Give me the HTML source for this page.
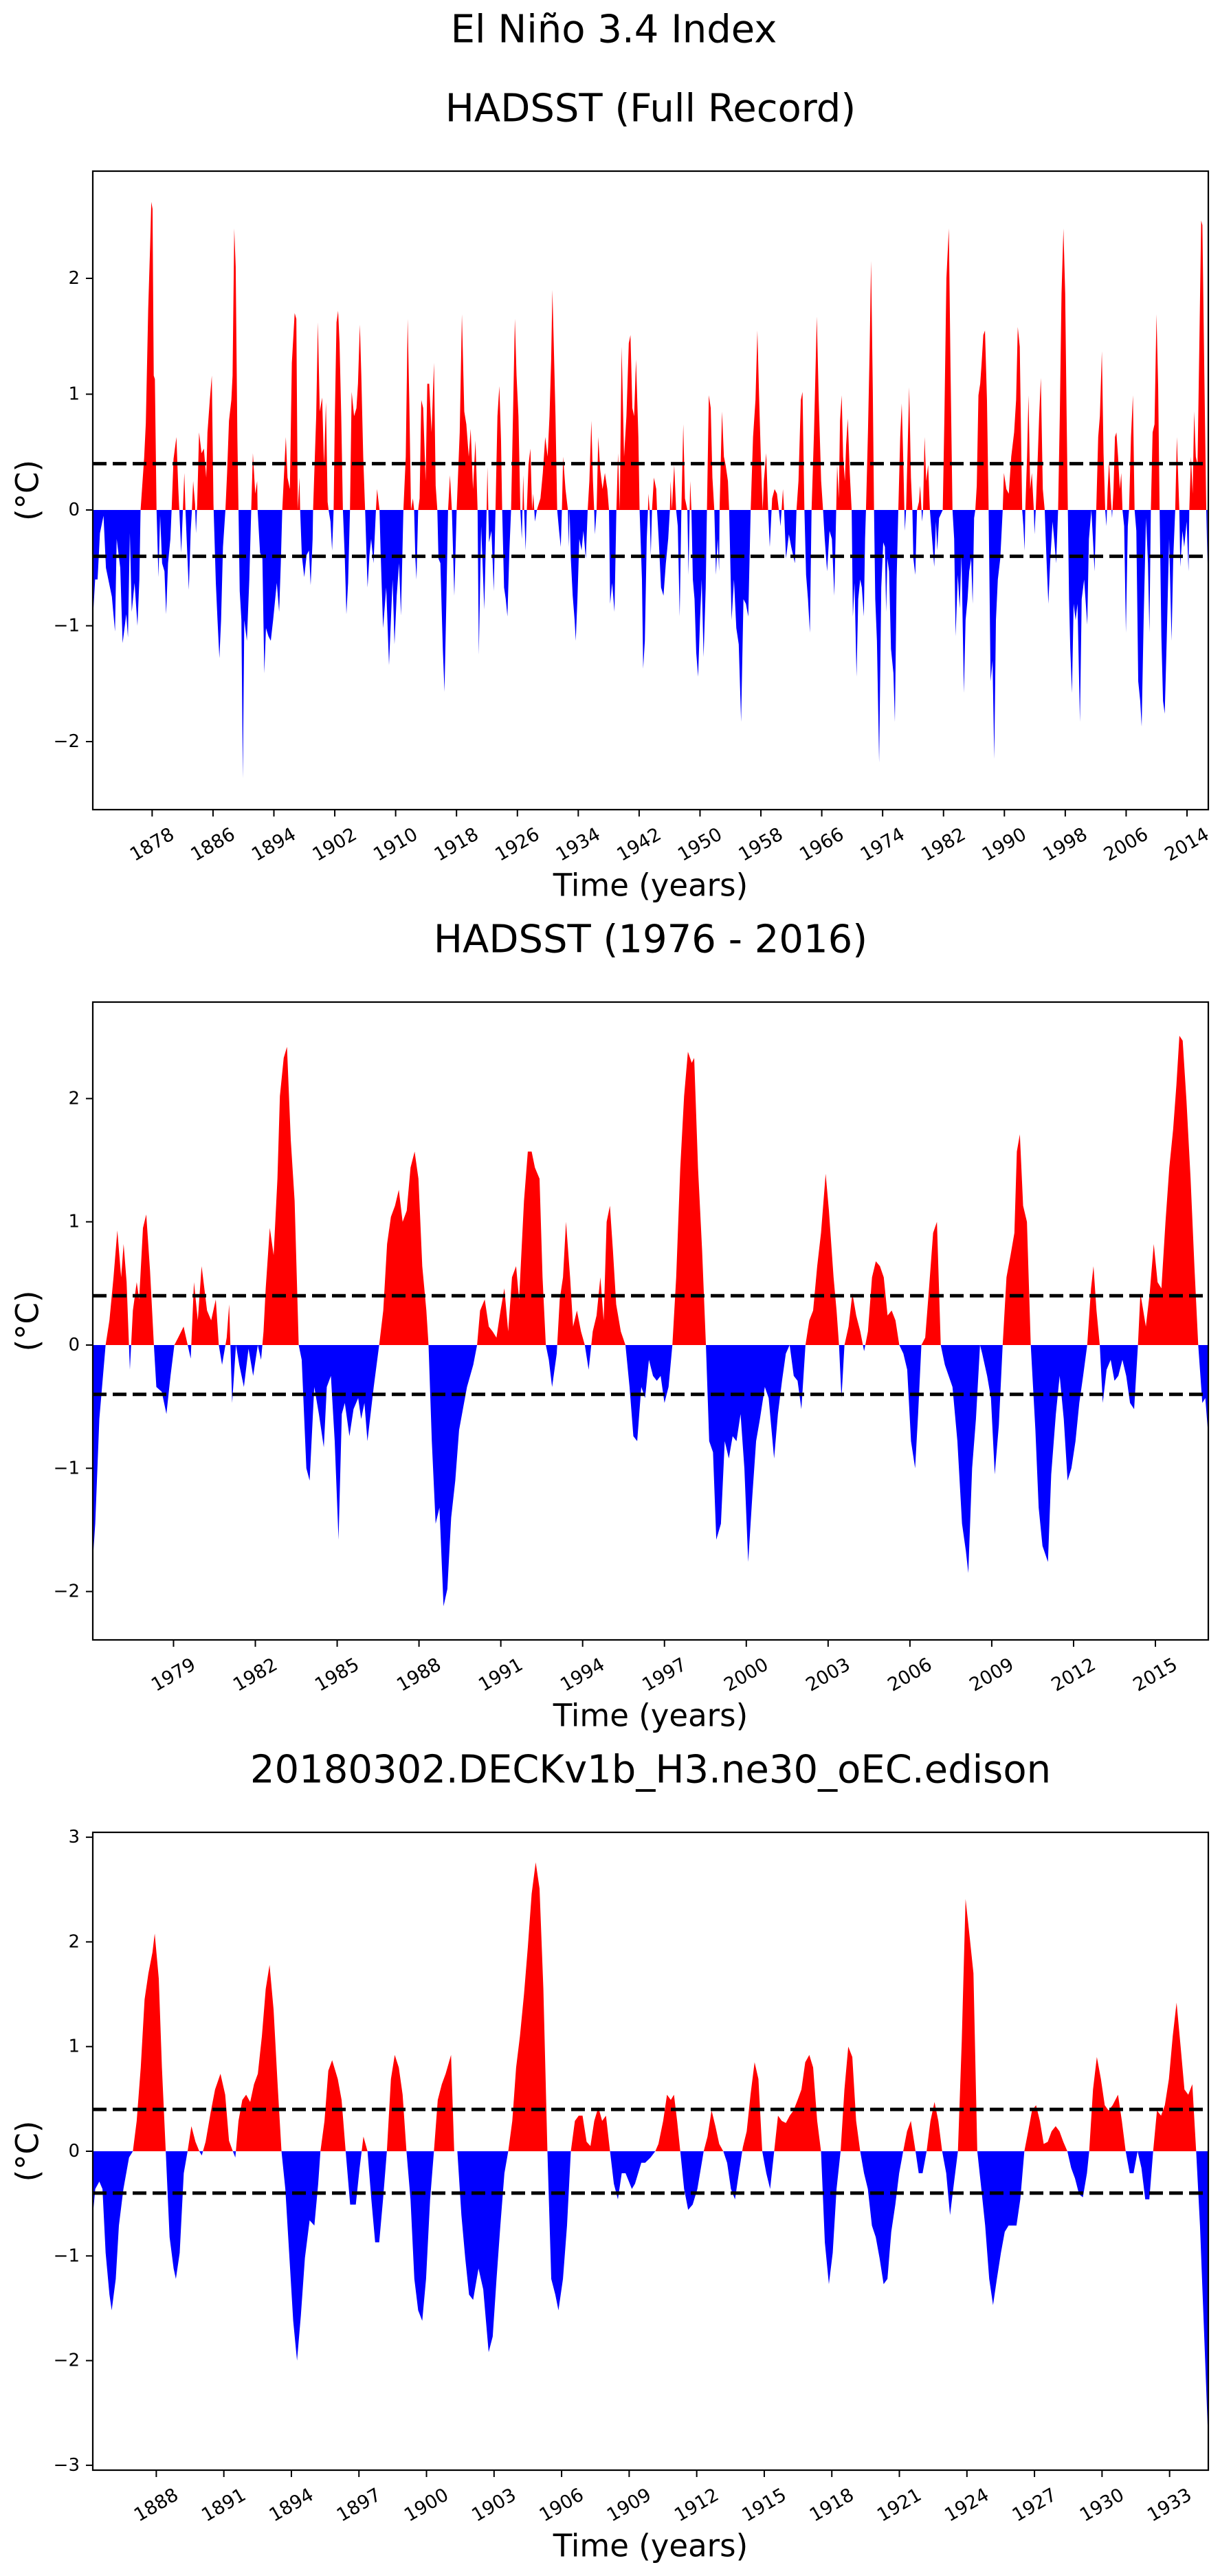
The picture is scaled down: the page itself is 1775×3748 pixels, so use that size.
<!DOCTYPE html>
<html><head><meta charset="utf-8"><title>El Niño 3.4 Index</title>
<style>
html,body{margin:0;padding:0;background:#fff;}
svg{display:block;font-family:"DejaVu Sans","Liberation Sans",sans-serif;}
</style></head>
<body>
<svg id="fig" width="1775" height="3748" viewBox="0 0 1775 3748" xmlns="http://www.w3.org/2000/svg">
<rect x="0" y="0" width="1775" height="3748" fill="#fff"/>
<text x="893" y="43" font-size="56" text-anchor="middle" dominant-baseline="central">El Niño 3.4 Index</text>
</svg>
<script>
// ---------- Panel 1 data: HADSST full record ----------
const p1Years = [1870.20,1870.51,1870.83,1871.14,1871.61,1871.93,1872.71,1873.12,1873.34,1873.81,1874.12,1874.60,1874.82,1875.07,1875.32,1875.69,1876.07,1876.32,1876.48,1876.95,1877.17,1877.48,1877.74,1877.89,1878.05,1878.21,1878.36,1878.58,1878.83,1879.05,1879.31,1879.62,1879.84,1880.09,1880.40,1880.56,1880.81,1881.19,1881.44,1881.57,1881.82,1882.04,1882.23,1882.38,1882.60,1882.82,1883.07,1883.23,1883.39,1883.64,1883.76,1883.92,1884.17,1884.49,1884.80,1885.11,1885.27,1885.58,1885.84,1886.06,1886.37,1886.59,1886.84,1887.06,1887.31,1887.63,1887.85,1888.10,1888.41,1888.57,1888.79,1888.98,1889.20,1889.35,1889.51,1889.73,1889.92,1890.11,1890.45,1890.77,1891.02,1891.24,1891.55,1891.80,1891.86,1892.18,1892.49,1892.74,1892.96,1893.28,1893.59,1893.90,1894.38,1894.69,1894.91,1895.10,1895.57,1895.79,1896.10,1896.36,1896.73,1896.95,1897.14,1897.36,1897.45,1897.67,1897.99,1898.30,1898.61,1898.83,1899.09,1899.15,1899.56,1899.78,1900.03,1900.34,1900.59,1900.84,1901.06,1901.19,1901.44,1901.65,1901.85,1902.01,1902.23,1902.44,1902.63,1902.85,1903.07,1903.32,1903.53,1903.75,1904.00,1904.22,1904.54,1904.85,1905.05,1905.30,1905.49,1905.74,1905.99,1906.31,1906.56,1906.78,1907.09,1907.41,1907.56,1907.88,1908.03,1908.35,1908.76,1909.13,1909.60,1909.85,1910.14,1910.45,1910.70,1911.02,1911.33,1911.58,1911.80,1912.02,1912.27,1912.43,1912.59,1912.74,1912.96,1913.15,1913.37,1913.62,1913.94,1914.16,1914.41,1914.72,1915.04,1915.26,1915.48,1915.63,1915.88,1916.20,1916.42,1916.67,1916.89,1917.14,1917.39,1917.71,1918.02,1918.42,1918.71,1919.02,1919.29,1919.61,1919.86,1920.17,1920.49,1920.77,1920.93,1921.24,1921.65,1921.96,1922.06,1922.18,1922.28,1922.59,1922.90,1923.12,1923.38,1923.63,1923.85,1924.00,1924.25,1924.47,1924.69,1924.95,1925.17,1925.42,1925.67,1925.89,1926.14,1926.39,1926.58,1926.77,1926.89,1927.08,1927.24,1927.46,1927.71,1927.93,1928.09,1928.31,1928.56,1929.03,1929.34,1929.66,1929.97,1930.22,1930.44,1930.60,1930.75,1931.01,1931.23,1931.48,1931.70,1931.85,1932.01,1932.32,1932.64,1932.73,1932.86,1933.02,1933.27,1933.52,1933.67,1933.89,1934.14,1934.43,1934.68,1934.99,1935.24,1935.46,1935.72,1935.93,1936.09,1936.19,1936.41,1936.63,1936.88,1937.19,1937.50,1937.82,1938.04,1938.19,1938.45,1938.76,1939.01,1939.23,1939.45,1939.70,1940.02,1940.33,1940.64,1940.86,1941.11,1941.34,1941.59,1941.90,1942.06,1942.37,1942.53,1942.75,1943.00,1943.16,1943.22,1943.38,1943.53,1943.69,1943.94,1944.25,1944.35,1944.57,1944.88,1945.20,1945.51,1945.82,1946.04,1946.14,1946.30,1946.61,1946.86,1947.08,1947.33,1947.55,1947.80,1948.02,1948.34,1948.49,1948.71,1948.87,1949.06,1949.28,1949.50,1949.75,1950.00,1950.22,1950.47,1950.75,1950.91,1951.16,1951.41,1951.63,1951.88,1952.10,1952.32,1952.51,1952.57,1952.89,1953.14,1953.36,1953.67,1953.83,1954.15,1954.46,1954.77,1955.09,1955.40,1955.71,1956.03,1956.34,1956.66,1956.97,1957.29,1957.54,1957.76,1958.01,1958.23,1958.39,1958.70,1958.95,1959.17,1959.48,1959.80,1960.11,1960.36,1960.58,1960.90,1961.05,1961.30,1961.68,1961.99,1962.47,1962.68,1962.94,1963.25,1963.47,1963.72,1963.94,1964.19,1964.44,1964.66,1964.98,1965.35,1965.60,1965.92,1966.17,1966.39,1966.70,1967.02,1967.33,1967.65,1967.90,1968.02,1968.24,1968.40,1968.62,1968.81,1969.04,1969.20,1969.42,1969.68,1969.93,1970.09,1970.31,1970.57,1970.79,1971.05,1971.27,1971.53,1971.69,1971.81,1972.07,1972.29,1972.48,1972.71,1972.87,1973.03,1973.25,1973.54,1973.82,1974.08,1974.30,1974.46,1974.62,1974.85,1975.10,1975.42,1975.61,1975.84,1976.06,1976.31,1976.51,1976.70,1976.92,1977.08,1977.27,1977.49,1977.72,1977.91,1978.04,1978.29,1978.52,1978.77,1978.93,1979.19,1979.31,1979.51,1979.73,1979.98,1980.21,1980.78,1981.01,1981.17,1981.42,1981.90,1982.12,1982.38,1982.70,1982.92,1983.18,1983.40,1983.59,1983.88,1984.13,1984.36,1984.68,1984.90,1985.16,1985.38,1985.63,1985.83,1986.02,1986.18,1986.37,1986.59,1986.82,1987.01,1987.23,1987.45,1987.71,1987.93,1988.19,1988.44,1988.67,1988.89,1989.14,1989.46,1989.78,1989.94,1990.26,1990.58,1990.90,1991.28,1991.54,1991.76,1992.02,1992.34,1992.50,1992.66,1992.75,1992.98,1993.17,1993.39,1993.61,1993.87,1993.96,1994.12,1994.35,1994.57,1994.79,1995.05,1995.30,1995.53,1995.78,1996.01,1996.33,1996.58,1996.80,1997.06,1997.28,1997.51,1997.76,1997.99,1998.18,1998.34,1998.50,1998.66,1998.88,1999.10,1999.36,1999.61,1999.93,2000.16,2000.48,2000.89,2001.11,2001.43,2001.66,2001.85,2002.07,2002.33,2002.55,2002.81,2003.03,2003.25,2003.41,2003.57,2003.76,2003.99,2004.15,2004.34,2004.53,2004.72,2004.94,2005.17,2005.36,2005.52,2005.74,2005.97,2006.22,2006.38,2006.64,2006.89,2007.11,2007.34,2007.59,2007.85,2008.04,2008.30,2008.61,2008.87,2009.06,2009.25,2009.48,2009.73,2009.99,2010.21,2010.40,2010.63,2010.85,2011.07,2011.33,2011.65,2011.97,2012.19,2012.45,2012.67,2012.86,2012.99,2013.12,2013.40,2013.63,2013.95,2014.20,2014.30,2014.52,2014.74,2014.94,2015.16,2015.38,2015.64,2015.86,2016.02,2016.28,2016.53,2016.69];
const p1Values = [-0.95,-0.6,-0.6,-0.2,-0.05,-0.5,-0.75,-1.05,-0.25,-0.5,-1.15,-0.9,-1.1,-0.2,-0.88,-0.63,-1.0,-0.6,0,0.45,0.75,1.73,2.29,2.66,2.6,1.16,1.13,0,-0.58,-0.05,-0.46,-0.53,-0.9,-0.46,-0.25,0,0.44,0.63,0.18,0,-0.37,0,0.32,0,-0.35,-0.69,-0.18,0,0.25,0.05,-0.2,0.05,0.67,0.49,0.53,0.28,0.67,0.95,1.16,0.05,-0.63,-0.95,-1.28,-0.95,-0.32,0,0.32,0.77,0.95,1.16,2.43,2.1,0.63,0,-0.7,-0.95,-2.32,-0.95,-1.13,-0.6,0,0.49,0.14,0.25,0,-0.37,-0.42,-1.41,-1.02,-1.09,-1.13,-0.95,-0.63,-0.88,-0.46,0,0.63,0.28,0.18,1.27,1.7,1.65,0,0.28,0,-0.39,-0.58,-0.39,-0.35,-0.65,-0.25,0,0.81,1.62,0.85,0.97,0.39,0.93,0.07,0,-0.1,-0.35,0,0.81,1.62,1.72,1.44,0.81,0,-0.42,-0.9,-0.63,0,1.02,0.81,0.88,1.09,1.6,1.16,0.46,0,-0.67,-0.39,-0.25,-0.46,0,0.18,0,-0.37,-1.02,-0.67,-1.34,-0.6,-1.16,-0.74,-0.46,-0.91,0,0.46,1.65,0.92,0,0.1,0,-0.42,-0.6,0,0.1,0.95,0.88,0.25,1.09,1.09,0.67,1.27,0.21,0,-0.42,-0.46,-1.2,-1.57,-0.77,0,0.3,0,-0.74,0,0.67,1.69,0.85,0.74,0.46,0.7,0.18,0.6,0,-1.25,-0.14,-0.86,0,0.37,0,-0.28,-0.18,-0.7,0,0.81,1.07,0.6,0,-0.67,-0.77,-0.92,-0.35,0,0.81,1.65,1.16,0.81,0,-0.25,0.3,0,-0.35,0,0.39,0.53,0,0.14,-0.1,0,0.1,0.32,0.63,0.46,0.81,1.3,1.9,1.51,0.81,0,-0.18,-0.32,0,0.46,0.18,0,-0.32,0,-0.42,-0.74,-0.95,-1.13,-0.77,-0.25,-0.35,-0.18,-0.42,0,0.25,0.77,0.25,0,-0.21,0,0.63,0.35,0.18,0.32,0.18,0,-0.81,-0.63,-0.88,0,0.49,0,1.41,0.46,0.81,1.44,1.51,0.88,0.81,1.3,0.63,0,-0.6,-1.37,-1.13,-0.25,0,0.14,0,-0.39,0,0.28,0.18,0,-0.25,-0.67,-0.74,-0.46,-0.25,0,0.25,0,0.39,0,-0.14,-0.92,0,0.74,0.1,0,-0.56,0.25,0,-0.6,-0.77,-1.23,-1.44,-0.95,-0.6,-1.27,-0.67,0,0.99,0.88,0.28,0,-0.56,-0.25,-0.53,0,0.85,0.46,0.39,0.25,0,-0.95,-0.6,-1.02,-1.16,-1.83,-0.77,-0.81,-0.92,0,0.63,0.95,1.55,0.99,0.42,0,0.25,0.49,0,-0.32,0.1,0.18,0.14,0,-0.14,0.18,0,-0.42,-0.21,-0.32,-0.46,0,0.25,0.95,1.02,0,-0.56,-0.77,-1.06,0,0.67,1.67,0.95,0.25,0,-0.25,-0.53,-0.18,-0.25,-0.74,0,0.39,0.1,0.77,0.99,0.46,0.25,0.56,0.79,0.32,0,-0.92,-0.63,-1.44,-0.77,-0.6,-0.67,-0.92,-0.25,0,0.67,1.37,2.15,1.02,0,-0.77,-1.13,-2.18,-0.67,-0.28,-0.32,-0.88,-0.42,-0.53,-1.2,-1.41,-1.83,-0.6,0,0.63,0.92,0.46,-0.18,0,0.49,1.06,0.28,0,-0.42,-0.56,0,0.07,0.21,-0.1,0,0.63,0.25,0.39,0,-0.49,-0.1,-0.35,-0.07,0,0.81,2.0,2.43,1.23,0,-0.25,-1.09,-0.56,-0.85,-0.39,-1.58,-0.95,-0.77,-0.53,-0.42,-0.81,-0.07,0,0.21,0.99,1.09,1.27,1.51,1.55,0.95,0,-1.48,-1.3,-2.15,-0.95,-0.6,-0.42,0,0.32,0.18,0.14,0.46,0.67,0.95,1.58,1.41,0,-0.14,-0.35,0,0.46,0.99,0.18,0.32,0,-0.21,0,0.39,0.81,1.14,0.18,0,-0.42,-0.81,-0.46,-0.1,-0.28,-0.46,0,0.81,1.87,2.43,1.87,0.81,0,-0.77,-1.2,-1.58,-0.81,-0.95,-0.81,-1.83,-0.77,-0.6,-0.99,-0.25,0,-0.28,-0.53,0,0.63,0.81,1.37,0.49,0,-0.14,0.18,0.42,0.1,-0.07,0.18,0.63,0.67,0.46,0.18,0.32,0,-0.14,-1.06,-0.14,0,0.63,0.99,0,-0.18,-1.48,-1.65,-1.87,-0.95,-0.07,-0.46,-1.06,0,0.67,0.74,1.69,1.06,0,-1.09,-1.65,-1.76,-1.13,-0.25,-1.13,-0.42,0,0.63,0.25,0,-0.49,-0.18,-0.32,-0.1,-0.53,0,0.46,0.14,0.85,0.46,0.39,1.51,2.5,2.46,1.16,0,-0.46];

// ---------- Panel 2 data: HADSST 1976-2016 ----------
const p2Years = [1976.02,1976.13,1976.28,1976.51,1976.65,1976.80,1976.94,1977.08,1977.17,1977.28,1977.40,1977.51,1977.65,1977.74,1977.88,1978.00,1978.14,1978.28,1978.37,1978.57,1978.74,1978.89,1979.03,1979.17,1979.37,1979.52,1979.63,1979.75,1979.89,1980.03,1980.23,1980.38,1980.55,1980.66,1980.78,1980.95,1981.04,1981.15,1981.29,1981.41,1981.58,1981.75,1981.92,1982.09,1982.21,1982.30,1982.38,1982.53,1982.67,1982.81,1982.90,1983.04,1983.16,1983.30,1983.44,1983.59,1983.70,1983.87,1983.99,1984.16,1984.33,1984.51,1984.62,1984.77,1984.91,1985.05,1985.17,1985.28,1985.45,1985.60,1985.77,1985.88,1986.00,1986.11,1986.34,1986.54,1986.69,1986.83,1986.97,1987.12,1987.26,1987.40,1987.55,1987.69,1987.84,1987.98,1988.12,1988.27,1988.35,1988.47,1988.61,1988.75,1988.90,1989.04,1989.18,1989.33,1989.47,1989.61,1989.76,1989.99,1990.13,1990.24,1990.41,1990.56,1990.70,1990.84,1990.99,1991.13,1991.27,1991.41,1991.56,1991.67,1991.85,1991.99,1992.13,1992.25,1992.42,1992.53,1992.65,1992.76,1992.88,1993.05,1993.16,1993.28,1993.39,1993.54,1993.65,1993.79,1993.94,1994.08,1994.22,1994.37,1994.51,1994.65,1994.77,1994.88,1995.00,1995.11,1995.23,1995.40,1995.57,1995.72,1995.86,1996.00,1996.15,1996.29,1996.43,1996.58,1996.72,1996.86,1997.00,1997.15,1997.29,1997.43,1997.58,1997.72,1997.86,1998.00,1998.09,1998.23,1998.38,1998.52,1998.64,1998.78,1998.90,1999.07,1999.21,1999.36,1999.50,1999.64,1999.79,1999.93,2000.07,2000.22,2000.36,2000.50,2000.68,2000.82,2001.02,2001.16,2001.31,2001.45,2001.59,2001.74,2001.88,2002.02,2002.17,2002.31,2002.45,2002.60,2002.74,2002.91,2003.03,2003.20,2003.31,2003.40,2003.49,2003.60,2003.75,2003.89,2004.03,2004.18,2004.32,2004.46,2004.61,2004.75,2004.90,2005.04,2005.18,2005.33,2005.47,2005.61,2005.76,2005.90,2006.04,2006.19,2006.30,2006.42,2006.56,2006.70,2006.85,2006.99,2007.13,2007.28,2007.42,2007.56,2007.74,2007.91,2008.05,2008.14,2008.28,2008.42,2008.57,2008.65,2008.83,2008.97,2009.11,2009.26,2009.40,2009.54,2009.69,2009.83,2009.92,2010.03,2010.15,2010.29,2010.43,2010.60,2010.72,2010.86,2011.06,2011.18,2011.35,2011.49,2011.64,2011.78,2011.92,2012.07,2012.21,2012.35,2012.50,2012.64,2012.73,2012.84,2012.96,2013.07,2013.21,2013.36,2013.50,2013.64,2013.79,2013.93,2014.07,2014.22,2014.36,2014.45,2014.65,2014.79,2014.94,2015.08,2015.22,2015.37,2015.51,2015.65,2015.77,2015.88,2016.00,2016.14,2016.29,2016.43,2016.57,2016.72,2016.83,2016.94];
const p2Values = [-1.81,-1.45,-0.6,0,0.2,0.55,0.93,0.55,0.82,0.51,-0.2,0.28,0.51,0.37,0.95,1.06,0.6,0,-0.34,-0.38,-0.56,-0.25,0,0.06,0.15,0,-0.11,0.51,0.2,0.64,0.28,0.2,0.37,0,-0.16,0.06,0.33,-0.47,0,-0.16,-0.34,-0.03,-0.25,0,-0.12,0.11,0.46,0.95,0.73,1.35,2.02,2.33,2.42,1.66,1.17,0,-0.12,-1.0,-1.1,-0.34,-0.56,-0.83,-0.34,-0.25,-0.78,-1.58,-0.56,-0.47,-0.74,-0.52,-0.43,-0.6,-0.47,-0.78,-0.34,0,0.28,0.82,1.04,1.13,1.26,1.0,1.09,1.44,1.57,1.35,0.64,0.28,0,-0.78,-1.45,-1.32,-2.12,-1.98,-1.4,-1.1,-0.69,-0.52,-0.34,-0.16,0,0.28,0.37,0.15,0.11,0.06,0.28,0.46,0.11,0.55,0.64,0.37,1.17,1.57,1.57,1.44,1.35,0.55,0,-0.12,-0.34,-0.07,0.37,0.55,1.0,0.55,0.15,0.28,0.11,0,-0.2,0.11,0.24,0.55,0.2,1.0,1.13,0.77,0.33,0.11,0,-0.34,-0.74,-0.78,-0.34,-0.43,-0.12,-0.25,-0.29,-0.25,-0.47,-0.34,0,0.55,1.44,2.02,2.38,2.29,2.33,1.44,0.77,0,-0.78,-0.87,-1.58,-1.45,-0.78,-0.92,-0.74,-0.78,-0.56,-1.0,-1.76,-1.23,-0.78,-0.6,-0.34,-0.43,-0.92,-0.56,-0.29,-0.07,0,-0.25,-0.29,-0.52,0,0.2,0.28,0.64,0.91,1.39,1.09,0.55,0.28,0,-0.43,0,0.15,0.42,0.24,0.11,-0.05,0.11,0.55,0.68,0.64,0.55,0.24,0.28,0.2,0,-0.07,-0.2,-0.78,-1.0,-0.56,0,0.06,0.46,0.91,1.0,0,-0.16,-0.25,-0.34,-0.78,-1.45,-1.67,-1.85,-1.0,-0.6,0,-0.07,-0.25,-0.43,-1.05,-0.65,0,0.55,0.73,0.91,1.57,1.71,1.13,1.0,0,-0.69,-1.32,-1.63,-1.76,-1.05,-0.56,-0.25,-0.6,-1.1,-1.0,-0.78,-0.47,-0.25,0,0.46,0.64,0.28,0,-0.47,-0.2,-0.12,-0.29,-0.25,-0.12,-0.25,-0.47,-0.52,0,0.42,0.15,0.42,0.82,0.51,0.46,1.0,1.44,1.75,2.11,2.51,2.47,1.98,1.35,0.64,0,-0.47,-0.43,-0.74];

// ---------- Panel 3 data: model run ----------
const p3Years = [1885.16,1885.29,1885.47,1885.61,1885.75,1885.92,1886.02,1886.20,1886.34,1886.54,1886.79,1886.96,1887.13,1887.31,1887.48,1887.65,1887.83,1887.93,1888.11,1888.25,1888.42,1888.59,1888.77,1888.87,1889.04,1889.22,1889.39,1889.56,1889.74,1889.91,1890.02,1890.19,1890.43,1890.61,1890.85,1891.06,1891.23,1891.40,1891.51,1891.65,1891.82,1891.99,1892.17,1892.34,1892.51,1892.69,1892.86,1893.03,1893.21,1893.38,1893.56,1893.73,1893.90,1894.08,1894.25,1894.42,1894.60,1894.81,1895.02,1895.19,1895.29,1895.47,1895.64,1895.81,1896.06,1896.23,1896.41,1896.61,1896.86,1897.03,1897.20,1897.38,1897.55,1897.72,1897.90,1898.07,1898.24,1898.42,1898.59,1898.77,1898.94,1899.11,1899.29,1899.46,1899.63,1899.81,1899.98,1900.16,1900.33,1900.50,1900.68,1900.85,1901.09,1901.23,1901.37,1901.55,1901.72,1901.89,1902.07,1902.31,1902.52,1902.76,1902.94,1903.11,1903.28,1903.46,1903.63,1903.81,1903.98,1904.15,1904.33,1904.50,1904.67,1904.85,1905.02,1905.19,1905.37,1905.54,1905.72,1905.86,1906.06,1906.24,1906.41,1906.59,1906.76,1906.93,1907.11,1907.28,1907.45,1907.63,1907.80,1907.97,1908.15,1908.32,1908.50,1908.67,1908.84,1909.12,1909.26,1909.54,1909.71,1909.95,1910.16,1910.30,1910.51,1910.68,1910.85,1910.99,1911.13,1911.27,1911.44,1911.62,1911.82,1912.03,1912.31,1912.48,1912.66,1912.83,1913.00,1913.18,1913.35,1913.52,1913.70,1913.87,1914.05,1914.22,1914.39,1914.57,1914.74,1914.91,1915.09,1915.26,1915.44,1915.61,1915.78,1915.96,1916.13,1916.30,1916.48,1916.65,1916.82,1917.00,1917.17,1917.35,1917.52,1917.69,1917.87,1918.04,1918.21,1918.39,1918.56,1918.73,1918.91,1919.08,1919.26,1919.43,1919.60,1919.78,1919.95,1920.12,1920.30,1920.47,1920.64,1920.82,1920.99,1921.17,1921.34,1921.51,1921.69,1921.86,1922.03,1922.21,1922.38,1922.56,1922.73,1922.90,1923.08,1923.25,1923.42,1923.60,1923.77,1923.94,1924.12,1924.29,1924.46,1924.64,1924.81,1924.99,1925.16,1925.33,1925.51,1925.68,1925.85,1926.20,1926.37,1926.55,1926.72,1926.89,1927.07,1927.24,1927.41,1927.59,1927.76,1927.94,1928.11,1928.28,1928.46,1928.63,1928.80,1928.98,1929.15,1929.33,1929.43,1929.60,1929.77,1929.95,1930.12,1930.29,1930.47,1930.71,1930.88,1931.05,1931.23,1931.40,1931.58,1931.75,1931.92,1932.10,1932.27,1932.44,1932.62,1932.79,1932.97,1933.14,1933.31,1933.49,1933.66,1933.83,1934.01,1934.18,1934.35,1934.53,1934.70];
const p3Values = [-0.66,-0.36,-0.29,-0.36,-0.97,-1.37,-1.52,-1.22,-0.71,-0.36,-0.06,0,0.29,0.8,1.45,1.7,1.9,2.08,1.65,0.8,0,-0.82,-1.12,-1.22,-0.97,-0.21,0,0.24,0.09,0,-0.04,0.09,0.39,0.59,0.74,0.54,0.1,0,-0.06,0.29,0.49,0.54,0.47,0.64,0.74,1.1,1.55,1.78,1.35,0.67,0,-0.36,-0.97,-1.62,-2.0,-1.57,-1.02,-0.66,-0.71,-0.31,0,0.29,0.77,0.87,0.69,0.49,0,-0.51,-0.51,-0.16,0.14,0,-0.46,-0.87,-0.87,-0.46,0,0.69,0.92,0.8,0.54,0,-0.46,-1.22,-1.52,-1.62,-1.22,-0.46,0,0.49,0.64,0.74,0.92,0,0,-0.61,-1.02,-1.37,-1.42,-1.12,-1.32,-1.92,-1.77,-1.22,-0.71,-0.21,0,0.29,0.8,1.1,1.5,1.95,2.46,2.76,2.51,1.55,0,-1.22,-1.37,-1.52,-1.22,-0.71,0,0.29,0.34,0.34,0.09,0.05,0.29,0.42,0.29,0.34,0,-0.31,-0.46,-0.21,-0.21,-0.36,-0.31,-0.11,-0.11,-0.06,0,0.07,0.29,0.54,0.49,0.54,0.29,0,-0.36,-0.56,-0.51,-0.36,0,0.14,0.39,0.24,0.07,0,-0.11,-0.36,-0.46,-0.21,0.04,0.19,0.54,0.85,0.69,0,-0.21,-0.36,0,0.34,0.29,0.27,0.34,0.39,0.49,0.59,0.85,0.92,0.8,0.29,0,-0.87,-1.27,-0.97,-0.36,0,0.59,1.0,0.9,0.29,0,-0.21,-0.36,-0.71,-0.82,-1.02,-1.27,-1.22,-0.77,-0.51,-0.21,0,0.19,0.29,0.04,-0.21,-0.21,0,0.29,0.47,0.29,0,-0.21,-0.61,-0.31,0,1.05,2.41,2.05,1.7,0,-0.36,-0.71,-1.22,-1.47,-1.22,-0.97,-0.77,-0.71,-0.71,-0.46,0,0.19,0.39,0.44,0.29,0.07,0.09,0.19,0.24,0.19,0.09,0,-0.16,-0.26,-0.41,-0.44,-0.21,0,0.59,0.9,0.69,0.44,0.39,0.44,0.54,0.29,0,-0.21,-0.21,0,-0.16,-0.46,-0.46,0,0.39,0.34,0.44,0.69,1.1,1.42,1.0,0.59,0.54,0.64,0,-0.71,-1.72,-2.68];

// ---------- Tick labels ----------
const p1XTicks = [1878,1886,1894,1902,1910,1918,1926,1934,1942,1950,1958,1966,1974,1982,1990,1998,2006,2014];
const p2XTicks = [1979,1982,1985,1988,1991,1994,1997,2000,2003,2006,2009,2012,2015];
const p3XTicks = [1888,1891,1894,1897,1900,1903,1906,1909,1912,1915,1918,1921,1924,1927,1930,1933];
const p12YTicks = [-2,-1,0,1,2];
const p3YTicks = [-3,-2,-1,0,1,2,3];
const thresholds = [0.4,-0.4];

const NS = "http://www.w3.org/2000/svg";
const svg = document.getElementById('fig');
function mk(tag, attrs, parent) {
  const e = document.createElementNS(NS, tag);
  for (const k in attrs) e.setAttribute(k, attrs[k]);
  (parent || svg).appendChild(e);
  return e;
}

const panels = [
  {key:'full', title:'HADSST (Full Record)', years:p1Years, vals:p1Values, xTicks:p1XTicks, yTicks:p12YTicks,
   left:135, right:1758, top:249, bottom:1178, x0:1870.2, x1:2016.8, zeroY:742, unit:168.5},
  {key:'recent', title:'HADSST (1976 - 2016)', years:p2Years, vals:p2Values, xTicks:p2XTicks, yTicks:p12YTicks,
   left:135, right:1758, top:1458, bottom:2386, x0:1976.04, x1:2016.94, zeroY:1957, unit:179.3},
  {key:'model', title:'20180302.DECKv1b_H3.ne30_oEC.edison', years:p3Years, vals:p3Values, xTicks:p3XTicks, yTicks:p3YTicks,
   left:135, right:1758, top:2666, bottom:3594, x0:1885.18, x1:1934.72, zeroY:3130, unit:152.3}
];

panels.forEach((p, pi) => {
  const xs = y => p.left + (y - p.x0) / (p.x1 - p.x0) * (p.right - p.left);
  const ys = v => p.zeroY - v * p.unit;
  const g = mk('g', {});
  
  

  const t = mk('text', {x:(p.left+p.right)/2, y:p.top-91, 'font-size':56, 'text-anchor':'middle', 'dominant-baseline':'central'}, g);
  t.textContent = p.title;
  
  

  const defs = mk('defs', {}, g);
  const cpA = mk('clipPath', {id:'above'+pi}, defs);
  mk('rect', {x:p.left, y:p.top, width:p.right-p.left, height:p.zeroY-p.top}, cpA);
  const cpB = mk('clipPath', {id:'below'+pi}, defs);
  mk('rect', {x:p.left, y:p.zeroY, width:p.right-p.left, height:p.bottom-p.zeroY}, cpB);

  let d = 'M' + xs(p.years[0]).toFixed(2) + ',' + ys(0).toFixed(2);
  for (let i = 0; i < p.years.length; i++) d += 'L' + xs(p.years[i]).toFixed(2) + ',' + ys(p.vals[i]).toFixed(2);
  d += 'L' + xs(p.years[p.years.length-1]).toFixed(2) + ',' + ys(0).toFixed(2) + 'Z';
  const warm = mk('path', {d:d, fill:'#ff0000', 'clip-path':'url(#above'+pi+')'}, g);
  
  
  const cold = mk('path', {d:d, fill:'#0000ff', 'clip-path':'url(#below'+pi+')'}, g);
  
  

  thresholds.forEach(th => {
    const l = mk('line', {x1:p.left, x2:p.right, y1:ys(th), y2:ys(th), stroke:'#000', 'stroke-width':5, 'stroke-dasharray':'20,9'}, g);
    
    
  });

  const fr = mk('rect', {x:p.left, y:p.top, width:p.right-p.left, height:p.bottom-p.top, fill:'none', stroke:'#000', 'stroke-width':2.2}, g);
  
  

  p.xTicks.forEach(yr => {
    const x = xs(yr);
    const tk = mk('line', {x1:x, x2:x, y1:p.bottom, y2:p.bottom+10, stroke:'#000', 'stroke-width':2}, g);
    
    
    const lb = mk('text', {x:x, y:p.bottom+51, 'font-size':27, 'text-anchor':'middle', 'dominant-baseline':'central', transform:'rotate(-30 '+x+' '+(p.bottom+51)+')'}, g);
    lb.textContent = String(yr);
    
    
  });

  p.yTicks.forEach(v => {
    const y = ys(v);
    const tk = mk('line', {x1:p.left-10, x2:p.left, y1:y, y2:y, stroke:'#000', 'stroke-width':2}, g);
    
    
    const lb = mk('text', {x:p.left-19, y:y, 'font-size':26, 'text-anchor':'end', 'dominant-baseline':'central'}, g);
    lb.textContent = v < 0 ? '\u2212' + Math.abs(v) : String(v);
    
    
  });

  const xl = mk('text', {x:(p.left+p.right)/2, y:p.bottom+110, 'font-size':45, 'text-anchor':'middle', 'dominant-baseline':'central'}, g);
  xl.textContent = 'Time (years)';
  
  
  const cy = (p.top + p.bottom) / 2;
  const yl = mk('text', {x:40, y:cy, 'font-size':45, 'text-anchor':'middle', 'dominant-baseline':'central', transform:'rotate(-90 40 '+cy+')'}, g);
  yl.textContent = '(\u00B0C)';
  
  
});
</script>
</body></html>
